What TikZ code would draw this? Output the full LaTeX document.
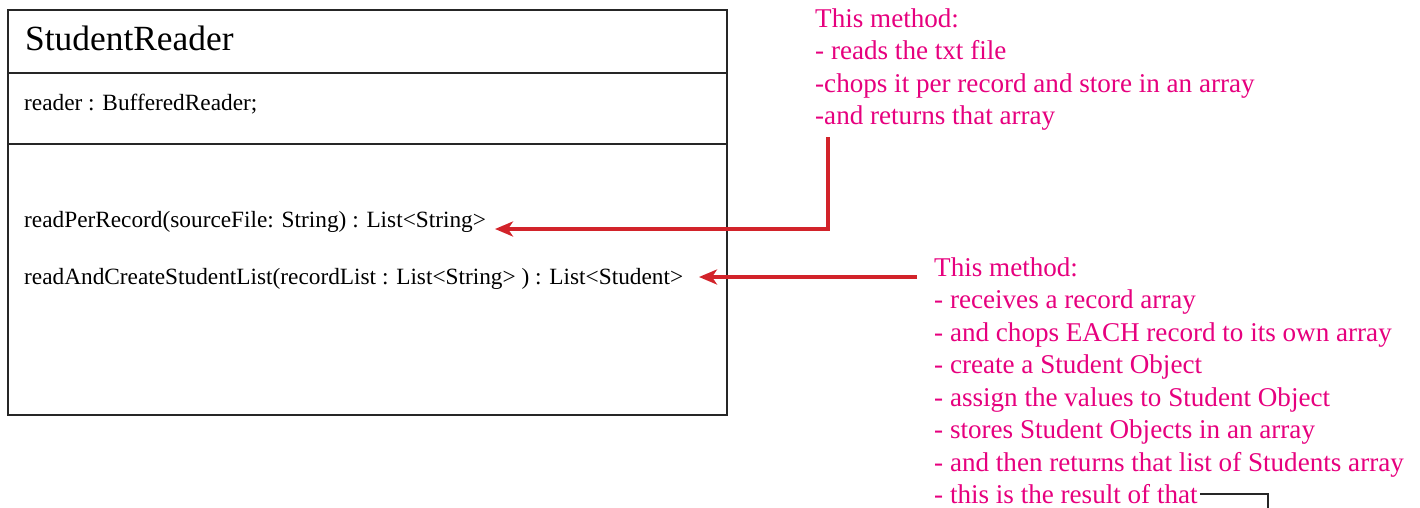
\documentclass[tikz,border=0pt]{standalone}
\usepackage{fontspec}
\setmainfont{Liberation Serif}
\usetikzlibrary{arrows.meta}
\definecolor{notepink}{HTML}{E6007E}
\definecolor{arrowred}{HTML}{D2232A}
\tikzset{
  boxline/.style={line width=2.4pt, draw=black!85},
  lbl/.style={anchor=west, inner sep=0pt, font=\fontsize{23.3}{27}\selectfont},
  note/.style={anchor=north west, inner sep=0pt, align=left, text=notepink,
     font=\fontsize{27.1}{32.5}\selectfont},
  noteline/.style={anchor=west, inner sep=0pt, text=notepink,
     font=\fontsize{27.1}{32.5}\selectfont},
  redarrow/.style={draw=arrowred, line width=3.2pt,
     -{Stealth[length=18pt,width=15pt,inset=5pt]}},
  blackline/.style={draw=black!85, line width=2.8pt}
}
\begin{document}
\begin{tikzpicture}[x=1pt,y=-1pt]
\useasboundingbox (0,0) rectangle (1420,508);
% class box
\node[boxline, draw, minimum width=719pt, minimum height=405pt, anchor=north west, inner sep=0pt] (cls) at (7,9) {};
\draw[boxline] (7,73) -- (726,73);
\draw[boxline] (7,144) -- (726,144);
\node[anchor=west, inner sep=0pt, font=\fontsize{35.4}{40}\selectfont] (title) at (25,38) {StudentReader};
\node[lbl] (attr) at (24,104) {reader : BufferedReader;};
\node[lbl] (m1) at (24,222) {readPerRecord(sourceFile: String) : List<String>};
\node[lbl] (m2) at (24,279) {readAndCreateStudentList(recordList : List<String> ) : List<Student>};
% notes
\node[note] (n1) at (815,8) {This method:\\- reads the txt file\\-chops it per record and store in an array\\-and returns that array};
\node[note] (n2) at (934,257) {This method:\\- receives a record array\\- and chops EACH record to its own array\\- create a Student Object\\- assign the values to Student Object\\- stores Student Objects in an array\\- and then returns that list of Students array};
\node[noteline] (n3) at (934,494) {- this is the result of that};
% connectors
\coordinate (s1) at (828,137);
\coordinate (t1) at (495,229);
\coordinate (s2) at (917,277);
\coordinate (t2) at (699,277);
\coordinate (b2) at (1268,508);
\draw[redarrow] (s1) |- (t1);
\draw[redarrow] (s2) -- (t2);
\draw[blackline] ([xshift=2pt]n3.east) -| (b2);
\end{tikzpicture}
\end{document}
